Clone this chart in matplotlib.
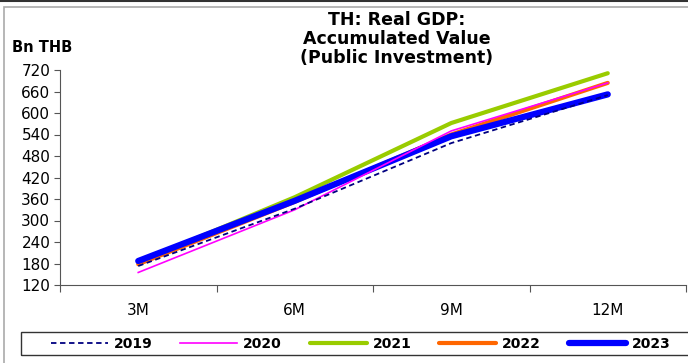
import matplotlib.pyplot as plt
from matplotlib.patches import Rectangle
from matplotlib.lines import Line2D

plt.rcParams['font.family'] = ['DejaVu Sans']

periods = ['3M', '6M', '9M', '12M']
y2019 = [173, 333, 516, 650]
y2020 = [155, 330, 550, 684]
y2021 = [183, 365, 572, 711]
y2022 = [178, 352, 540, 684]
y2023 = [187, 355, 535, 652]

W, H = 688, 363
fig = plt.figure(figsize=(W/100, H/100), dpi=100)
ax = fig.add_axes([60/W, (H-285)/H, 626/W, 215/H])

x = range(len(periods))
ax.plot(x, y2021, color='#99CC00', lw=3, zorder=2, solid_capstyle='round')
ax.plot(x, y2022, color='#FF6600', lw=3, zorder=3, solid_capstyle='round')
ax.plot(x, y2023, color='#0000FF', lw=4.5, zorder=4, solid_capstyle='round')
ax.plot(x, y2020, color='#FF00FF', lw=1.2, zorder=5)
ax.plot(x, y2019, color='#000080', lw=1.3, ls=(0, (3, 2)), zorder=6)

ax.set_xlim(-0.5, 3.5)
ax.set_ylim(120, 720)
ax.set_yticks(range(120, 721, 60))
ax.set_xticks([-0.5, 0.5, 1.5, 2.5, 3.5])
ax.set_xticklabels([])
ax.set_xticks(list(x), minor=True)
ax.set_xticklabels(periods, minor=True)
ax.tick_params(axis='x', which='minor', length=0, pad=13, labelsize=11)
ax.tick_params(axis='x', which='major', length=5, direction='out', color='#555555')
ax.tick_params(axis='y', length=4, direction='out', labelsize=11, pad=3, color='#555555')
for s in ['top', 'right']:
    ax.spines[s].set_visible(False)
ax.spines['left'].set_color('#555555')
ax.spines['bottom'].set_color('#555555')

fig.text(397/W, 1 - 39/H, 'TH: Real GDP:\nAccumulated Value\n(Public Investment)',
         ha='center', va='center', fontsize=12.5, fontweight='bold', linespacing=1.05)
fig.text(12/W, 1 - 47/H, 'Bn THB', ha='left', va='center', fontsize=10.5, fontweight='bold')

# legend box, runs off the right edge
fig.add_artist(Rectangle((21/W, 1 - 355/H), 700/W, 23/H, transform=fig.transFigure,
                         fill=False, edgecolor='#333333', lw=1))
handles = [
    Line2D([], [], color='#000080', lw=1.3, ls=(0, (3, 2))),
    Line2D([], [], color='#FF00FF', lw=1.2),
    Line2D([], [], color='#99CC00', lw=3, solid_capstyle='round'),
    Line2D([], [], color='#FF6600', lw=3, solid_capstyle='round'),
    Line2D([], [], color='#0000FF', lw=4.5, solid_capstyle='round'),
]
leg = fig.legend(handles, ['2019', '2020', '2021', '2022', '2023'], ncol=5,
                 loc='center left', bbox_to_anchor=(51/W, 1 - 343.5/H),
                 prop={'weight': 'bold', 'size': 10}, frameon=False,
                 handlelength=4.1, columnspacing=2.0, handletextpad=0.43,
                 borderpad=0, borderaxespad=0)

# outer frame
fig.add_artist(Line2D([0, 1], [1 - 0.7/H, 1 - 0.7/H], transform=fig.transFigure,
                      color='#333333', lw=1.5))
fig.add_artist(Rectangle((3.5/W, -0.05), 1.2, 1 - 6.5/H + 0.05, transform=fig.transFigure,
                         fill=False, edgecolor='#aaaaaa', lw=1.2))

fig.savefig('out.png', dpi=100)
